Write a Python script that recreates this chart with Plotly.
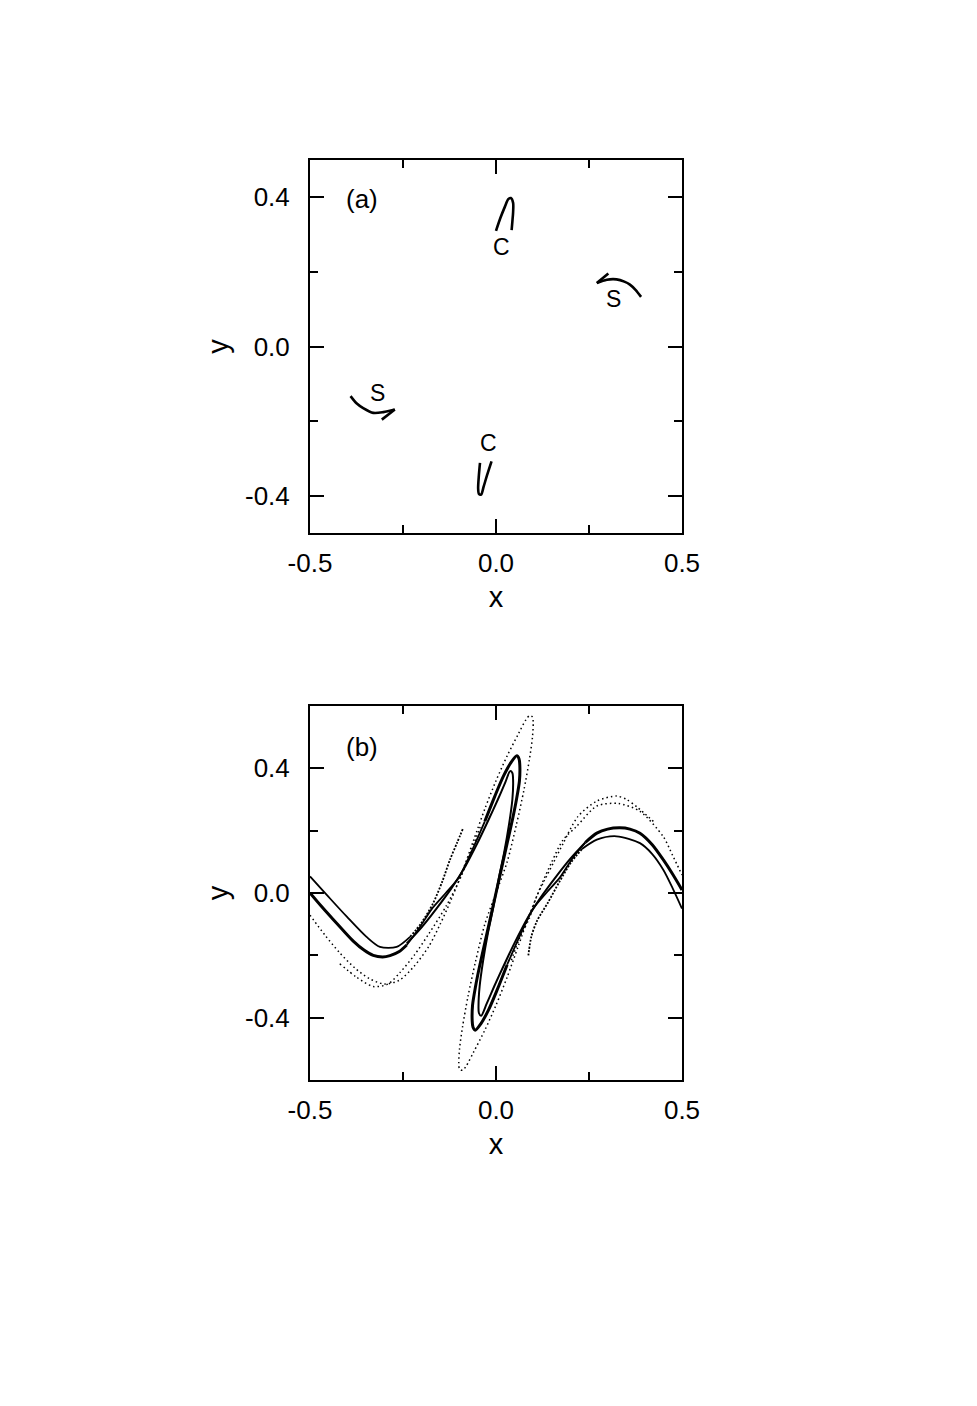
import plotly.graph_objects as go

# ---------------- panel (a) data ----------------
c_top_x = [0.000, 0.012, 0.024, 0.033, 0.040, 0.046, 0.046, 0.044, 0.042]
c_top_y = [0.310, 0.345, 0.375, 0.395, 0.398, 0.385, 0.360, 0.335, 0.312]
c_bot_x = [-0.043, -0.046, -0.048, -0.046, -0.040, -0.033, -0.024, -0.012]
c_bot_y = [-0.312, -0.345, -0.380, -0.395, -0.397, -0.375, -0.345, -0.308]
s_right_arc_x = [0.271, 0.298, 0.324, 0.345, 0.360, 0.375, 0.390]
s_right_arc_y = [0.170, 0.179, 0.180, 0.174, 0.166, 0.152, 0.133]
s_right_hook_x = [0.271, 0.302]
s_right_hook_y = [0.170, 0.196]
s_left_arc_x = [-0.391, -0.375, -0.357, -0.330, -0.303, -0.272]
s_left_arc_y = [-0.133, -0.152, -0.165, -0.178, -0.176, -0.169]
s_left_hook_x = [-0.272, -0.307]
s_left_hook_y = [-0.169, -0.196]
labels_a_text = ["C", "C", "S", "S"]
labels_a_x = [0.016, -0.019, 0.317, -0.319]
labels_a_y = [0.266, -0.260, 0.128, -0.124]

# ---------------- panel (b) data ----------------
# thick main curve (valley -> top tip -> middle -> bottom tip -> hump)
c2_x = [-0.500, -0.470, -0.437, -0.410, -0.383, -0.355, -0.330, -0.305, -0.285, -0.260, -0.240,
        -0.205, -0.172, -0.135, -0.100, -0.065, -0.030, -0.003, 0.020, 0.040, 0.056, 0.062, 0.064,
        0.063, 0.055, 0.045, 0.030, 0.015, 0.000, -0.015, -0.030, -0.045, -0.055, -0.063, -0.064,
        -0.062, -0.056, -0.040, -0.020, 0.003, 0.030, 0.065, 0.100, 0.135, 0.172, 0.205, 0.240,
        0.271, 0.300, 0.333, 0.360, 0.387, 0.420, 0.450, 0.475, 0.500]
c2_y = [0.000, -0.042, -0.086, -0.121, -0.155, -0.183, -0.200, -0.205, -0.201, -0.188, -0.167,
        -0.110, -0.050, 0.000, 0.050, 0.135, 0.230, 0.311, 0.375, 0.418, 0.440, 0.430, 0.410,
        0.360, 0.300, 0.240, 0.160, 0.080, 0.000, -0.080, -0.160, -0.240, -0.300, -0.360, -0.410,
        -0.430, -0.440, -0.418, -0.375, -0.311, -0.230, -0.135, -0.050, 0.000, 0.050, 0.110, 0.162,
        0.192, 0.205, 0.209, 0.205, 0.192, 0.155, 0.106, 0.060, 0.010]
# inner loop curve (inner tips)
c5_x = [-0.240, -0.200, -0.160, -0.120, -0.085, -0.050, -0.020, 0.005, 0.025, 0.038, 0.044,
        0.046, 0.044, 0.035, 0.022, 0.008, -0.008, -0.022, -0.035, -0.044, -0.047, -0.046,
        -0.040, -0.025, -0.005, 0.020, 0.050, 0.085, 0.120, 0.160, 0.200, 0.240]
c5_y = [-0.162, -0.110, -0.050, 0.015, 0.080, 0.160, 0.235, 0.300, 0.355, 0.391, 0.385,
        0.360, 0.300, 0.220, 0.130, 0.050, -0.050, -0.130, -0.220, -0.300, -0.360, -0.385,
        -0.394, -0.355, -0.300, -0.235, -0.160, -0.080, -0.015, 0.050, 0.110, 0.162]
# thin solid curves ending in dense dotted bands
c1l_x = [-0.500, -0.455, -0.401, -0.348, -0.312, -0.267, -0.231, -0.200, -0.170, -0.145,
         -0.124, -0.105, -0.088]
c1l_y = [0.053, -0.006, -0.076, -0.141, -0.173, -0.173, -0.141, -0.095, -0.035, 0.035,
         0.106, 0.160, 0.209]
c1r_x = [0.500, 0.475, 0.450, 0.420, 0.387, 0.324, 0.271, 0.231, 0.200, 0.170, 0.140, 0.110,
         0.095, 0.087]
c1r_y = [-0.050, 0.015, 0.074, 0.125, 0.160, 0.182, 0.171, 0.141, 0.095, 0.035, -0.030, -0.090,
         -0.140, -0.200]
# dotted outermost curve
c3_x = [-0.500, -0.460, -0.420, -0.380, -0.340, -0.300, -0.260, -0.220, -0.180, -0.150, -0.120,
        -0.090, -0.060, -0.030, 0.000, 0.030, 0.060, 0.080, 0.090, 0.098, 0.100, 0.098, 0.090,
        0.075, 0.055, 0.030, 0.000, -0.030, -0.055, -0.075, -0.090, -0.098, -0.100, -0.098,
        -0.090, -0.080, -0.060, -0.030, 0.000, 0.030, 0.060, 0.090, 0.120, 0.150, 0.180, 0.217,
        0.271, 0.329, 0.387, 0.450, 0.475, 0.500]
c3_y = [-0.071, -0.135, -0.192, -0.240, -0.275, -0.292, -0.280, -0.235, -0.170, -0.100, -0.020,
        0.070, 0.170, 0.270, 0.360, 0.440, 0.510, 0.555, 0.569, 0.565, 0.545, 0.500, 0.430,
        0.330, 0.220, 0.100, 0.000, -0.100, -0.220, -0.330, -0.430, -0.500, -0.545, -0.565,
        -0.569, -0.555, -0.510, -0.440, -0.360, -0.270, -0.170, -0.070, 0.020, 0.100, 0.170, 0.214,
        0.279, 0.287, 0.262, 0.180, 0.120, 0.058]
# second dotted arcs
c4l_x = [-0.420, -0.375, -0.330, -0.290, -0.258, -0.220, -0.180, -0.133, -0.095, -0.065, -0.040]
c4l_y = [-0.227, -0.270, -0.300, -0.292, -0.255, -0.200, -0.130, -0.040, 0.050, 0.140, 0.220]
c4r_x = [0.423, 0.380, 0.351, 0.324, 0.271, 0.220, 0.181, 0.154, 0.130, 0.109, 0.090, 0.065, 0.040]
c4r_y = [0.230, 0.275, 0.300, 0.311, 0.295, 0.245, 0.160, 0.096, 0.040, -0.012, -0.080, -0.140, -0.220]

# ---------------- axes data ----------------
x_tickvals = [-0.5, 0.0, 0.5]
x_ticktext = ["-0.5", "0.0", "0.5"]
y_tickvals = [-0.4, 0.0, 0.4]
y_ticktext = ["-0.4", "0.0", "0.4"]

FONT = "Liberation Sans, Arial, sans-serif"
fig = go.Figure()

def line(x, y, xa, ya, width=2.6, dash="solid", shape="spline"):
    fig.add_trace(go.Scatter(x=x, y=y, xaxis=xa, yaxis=ya, mode="lines",
                             line=dict(color="black", width=width, dash=dash, shape=shape,
                                       smoothing=0.8),
                             showlegend=False, hoverinfo="skip"))

# panel (a)
line(c_top_x, c_top_y, "x", "y")
line(c_bot_x, c_bot_y, "x", "y")
line(s_right_arc_x, s_right_arc_y, "x", "y")
line(s_right_hook_x, s_right_hook_y, "x", "y", shape="linear")
line(s_left_arc_x, s_left_arc_y, "x", "y")
line(s_left_hook_x, s_left_hook_y, "x", "y", shape="linear")

# panel (b)
DOT = "1.5px,3px"
DENSE = "2px,1.5px"
line(c3_x, c3_y, "x2", "y2", width=1.5, dash=DOT)
line(c4l_x, c4l_y, "x2", "y2", width=1.5, dash=DOT)
line(c4r_x, c4r_y, "x2", "y2", width=1.5, dash=DOT)
line(c1l_x[:7], c1l_y[:7], "x2", "y2", width=1.8)
line(c1l_x[6:], c1l_y[6:], "x2", "y2", width=1.8, dash=DENSE)
line(c1r_x[:8], c1r_y[:8], "x2", "y2", width=1.8)
line(c1r_x[7:], c1r_y[7:], "x2", "y2", width=1.8, dash=DENSE)
line(c5_x, c5_y, "x2", "y2", width=2.0)
line(c2_x[:11], c2_y[:11], "x2", "y2", width=3.0)
line(c2_x[10:17], c2_y[10:17], "x2", "y2", width=1.8)
line(c2_x[16:41], c2_y[16:41], "x2", "y2", width=3.0)
line(c2_x[40:47], c2_y[40:47], "x2", "y2", width=1.8)
line(c2_x[46:], c2_y[46:], "x2", "y2", width=3.0)

tickfont = dict(family=FONT, size=26, color="black")
titlefont = dict(family=FONT, size=29, color="black")

# page body has an 8px margin, so pixel positions are shifted by 8
OFF = 8
W, H = 977, 1406

def xaxis(anchor):
    return dict(range=[-0.5, 0.5], domain=[(310 - OFF) / W, (682 - OFF) / W], anchor=anchor,
                automargin=False,
                tickmode="array", tickvals=x_tickvals, ticktext=x_ticktext,
                ticks="inside", ticklen=14, tickwidth=2, tickcolor="black",
                ticklabelstandoff=6,
                minor=dict(dtick=0.25, tick0=-0.5, ticks="inside", ticklen=8, tickwidth=2,
                           tickcolor="black"),
                showline=True, linewidth=2, linecolor="black", mirror="ticks",
                showgrid=False, zeroline=False, tickfont=tickfont,
                title=dict(text="x", font=titlefont, standoff=9), fixedrange=True)

def yaxis(anchor, rng, top, bottom):
    return dict(range=rng, domain=[1 - (bottom - OFF) / H, 1 - (top - OFF) / H],
                anchor=anchor, automargin=False,
                tickmode="array", tickvals=y_tickvals, ticktext=y_ticktext,
                ticks="inside", ticklen=14, tickwidth=2, tickcolor="black",
                ticklabelstandoff=13,
                minor=dict(dtick=0.2, tick0=0, ticks="inside", ticklen=8, tickwidth=2,
                           tickcolor="black"),
                showline=True, linewidth=2, linecolor="black", mirror="ticks",
                showgrid=False, zeroline=False, tickfont=tickfont,
                title=dict(text="y", font=titlefont, standoff=8), fixedrange=True)

fig.update_layout(
    width=W, height=H, margin=dict(l=0, r=0, t=0, b=0, autoexpand=False),
    paper_bgcolor="white", plot_bgcolor="white",
    xaxis=xaxis("y"),
    yaxis=yaxis("x", [-0.5, 0.5], 160, 533),
    xaxis2=xaxis("y2"),
    yaxis2=yaxis("x2", [-0.6, 0.6], 706, 1080),
)

ann = [dict(text="(a)", x=-0.361, y=0.395, xref="x", yref="y", showarrow=False,
            font=dict(family=FONT, size=26, color="black")),
       dict(text="(b)", x=-0.361, y=0.467, xref="x2", yref="y2", showarrow=False,
            font=dict(family=FONT, size=26, color="black"))]
for t, xx, yy in zip(labels_a_text, labels_a_x, labels_a_y):
    ann.append(dict(text=t, x=xx, y=yy, xref="x", yref="y", showarrow=False,
                    font=dict(family=FONT, size=23, color="black")))
fig.update_layout(annotations=ann)

fig.write_html("out.html")
